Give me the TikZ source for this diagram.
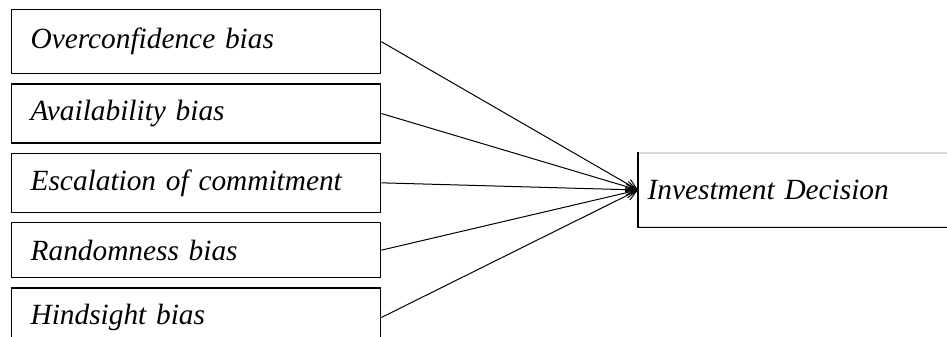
\documentclass[tikz,border=0pt]{standalone}
\usepackage{fontspec}
\setmainfont{Liberation Serif}
\usetikzlibrary{positioning,arrows.meta}

\begin{document}
\begin{tikzpicture}[
  x=0.75pt, y=-0.75pt,
  bias/.style={draw, line width=1pt, anchor=north west, minimum width=276.75pt, text width=248.25pt, inner xsep=14.25pt, align=left, font=\fontsize{22}{26}\selectfont\itshape},
  arrow/.style={-{Straight Barb[length=8pt,width=8pt]}, line width=0.75pt}
]
\clip (0,0) rectangle (947,336);
\fill[white] (0,0) rectangle (947,336);

\node[bias, minimum height=48pt] (over) at (11,9) {Overconfidence bias};
\node[bias, minimum height=44.25pt, below=6.75pt of over] (avail) {Availability bias};
\node[bias, minimum height=44.25pt, below=6.75pt of avail] (escal) {Escalation of commitment};
\node[bias, minimum height=41.25pt, below=6.75pt of escal] (random) {Randomness bias};
\node[bias, minimum height=44.25pt, below=6.75pt of random] (hind) {Hindsight bias};

\node[draw=black!15, line width=1pt, anchor=west, minimum width=300pt, text width=286.5pt, inner xsep=6.75pt, minimum height=55.5pt, align=left, font=\fontsize{22}{26}\selectfont\itshape] (decision) at (638,190) {Investment Decision};
\draw[line width=1pt] (decision.north west) -- (decision.south west) -- (decision.south east);

\draw[arrow] (over.east) -- (decision.west);
\draw[arrow] (avail.east) -- (decision.west);
\draw[arrow] (escal.east) -- (decision.west);
\draw[arrow] (random.east) -- (decision.west);
\draw[arrow] (hind.east) -- (decision.west);
\end{tikzpicture}
\end{document}
